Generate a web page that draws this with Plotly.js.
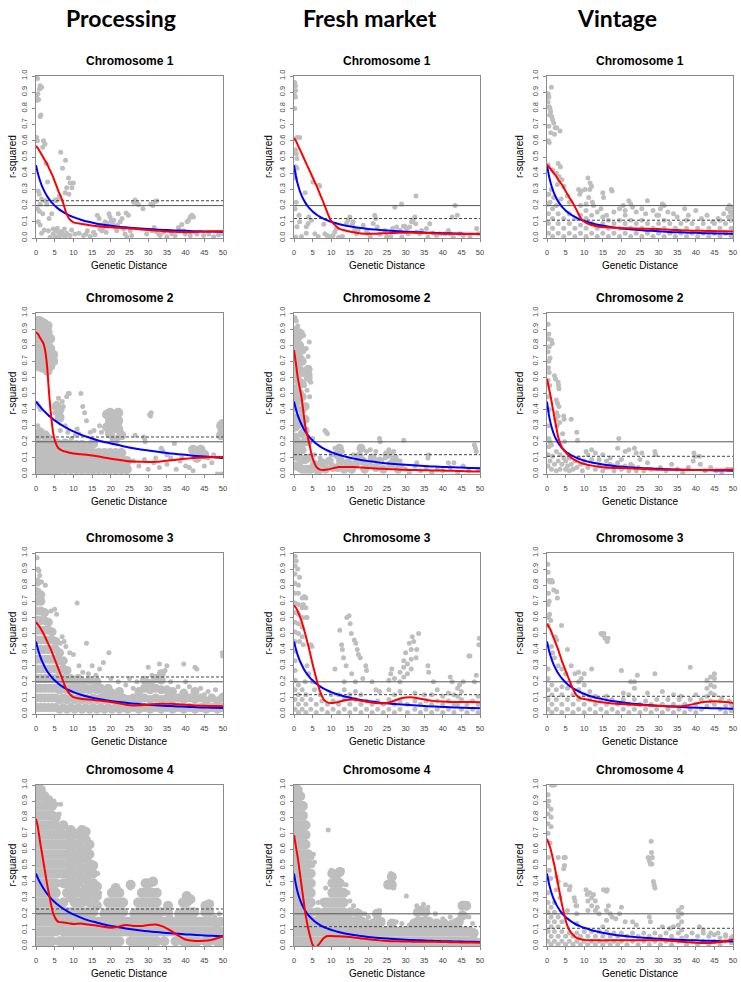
<!DOCTYPE html>
<html><head><meta charset="utf-8">
<script src="https://cdn.plot.ly/plotly-3.0.1.min.js"></script>
<style>html,body{margin:0;padding:0;background:#fff}#chart{width:741px;height:982px}</style>
</head><body><div id="chart"></div>
<script>
// ---------------- DATA ----------------
const GROUPS = ['Processing', 'Fresh market', 'Vintage'];
const CHROMS = ['Chromosome 1', 'Chromosome 2', 'Chromosome 3', 'Chromosome 4'];
const X_TITLE = 'Genetic Distance';
const Y_TITLE = 'r-squared';
const X_TICKS = [0, 5, 10, 15, 20, 25, 30, 35, 40, 45, 50];
const Y_TICKS = [0, 0.1, 0.2, 0.3, 0.4, 0.5, 0.6, 0.7, 0.8, 0.9, 1.0];
const Y_TICK_LABELS = ['0.0', '0.1', '0.2', '0.3', '0.4', '0.5', '0.6', '0.7', '0.8', '0.9', '1.0'];
const SOLID_LINE = 0.2;
const DASHED_LINE = [0.23, 0.12, 0.11]; // per group
const CURVE_X = [0,0.5,1,1.5,2,2.5,3,3.5,4,4.5,5,5.5,6,7,8,9,10,12,14,16,18,20,22,24,26,28,30,32,34,36,38,40,42,44,46,48,50];

// Red (loess) and blue (decay model) curves
const P1_RED = [0.568,0.555,0.535,0.515,0.495,0.475,0.455,0.43,0.405,0.38,0.35,0.32,0.29,0.235,0.16,0.115,0.097,0.088,0.08,0.074,0.069,0.066,0.063,0.06,0.057,0.053,0.049,0.046,0.042,0.039,0.037,0.035,0.036,0.038,0.04,0.041,0.042];
const P1_BLUE = [0.45,0.4,0.36,0.327,0.3,0.277,0.257,0.24,0.225,0.212,0.2,0.189,0.18,0.164,0.15,0.138,0.129,0.113,0.1,0.09,0.082,0.076,0.07,0.066,0.062,0.058,0.055,0.052,0.05,0.048,0.046,0.044,0.042,0.041,0.04,0.039,0.038];
const F1_RED = [0.617,0.6,0.575,0.55,0.525,0.5,0.475,0.45,0.425,0.4,0.375,0.35,0.325,0.27,0.215,0.155,0.105,0.06,0.045,0.035,0.028,0.026,0.027,0.029,0.031,0.032,0.033,0.033,0.031,0.03,0.028,0.027,0.026,0.025,0.025,0.025,0.025];
const F1_BLUE = [0.45,0.383,0.333,0.295,0.265,0.24,0.22,0.202,0.188,0.175,0.164,0.154,0.145,0.13,0.118,0.109,0.1,0.087,0.076,0.068,0.062,0.056,0.052,0.048,0.045,0.042,0.039,0.037,0.035,0.033,0.031,0.03,0.029,0.028,0.027,0.026,0.025];
const V1_RED = [0.453,0.44,0.425,0.41,0.395,0.38,0.36,0.345,0.33,0.31,0.29,0.27,0.25,0.215,0.17,0.125,0.1,0.08,0.07,0.066,0.063,0.061,0.06,0.058,0.057,0.056,0.055,0.052,0.05,0.048,0.046,0.045,0.044,0.043,0.042,0.041,0.04];
const V1_BLUE = [0.45,0.387,0.338,0.301,0.271,0.247,0.226,0.209,0.194,0.181,0.17,0.16,0.151,0.136,0.124,0.113,0.105,0.091,0.08,0.072,0.065,0.059,0.055,0.051,0.047,0.044,0.041,0.039,0.036,0.035,0.033,0.032,0.03,0.029,0.028,0.027,0.026];
const P2_RED = [0.88,0.87,0.85,0.83,0.81,0.76,0.66,0.5,0.37,0.27,0.21,0.18,0.16,0.145,0.138,0.132,0.127,0.122,0.118,0.112,0.103,0.095,0.088,0.081,0.077,0.076,0.075,0.076,0.08,0.085,0.09,0.095,0.099,0.102,0.104,0.105,0.105];
const P2_BLUE = [0.45,0.435,0.421,0.408,0.395,0.383,0.372,0.361,0.351,0.341,0.333,0.325,0.316,0.302,0.288,0.276,0.265,0.245,0.228,0.213,0.2,0.19,0.18,0.169,0.16,0.152,0.146,0.14,0.134,0.128,0.123,0.119,0.114,0.11,0.107,0.103,0.1];
const F2_RED = [0.77,0.69,0.6,0.54,0.48,0.39,0.3,0.245,0.2,0.145,0.1,0.068,0.045,0.027,0.025,0.028,0.033,0.043,0.044,0.043,0.04,0.037,0.034,0.032,0.03,0.028,0.026,0.025,0.024,0.023,0.022,0.021,0.02,0.019,0.017,0.016,0.016];
const F2_BLUE = [0.45,0.404,0.366,0.335,0.309,0.286,0.266,0.249,0.234,0.22,0.209,0.198,0.188,0.172,0.158,0.146,0.136,0.12,0.107,0.096,0.087,0.08,0.074,0.068,0.064,0.06,0.057,0.054,0.051,0.048,0.046,0.044,0.042,0.041,0.039,0.037,0.036];
const V2_RED = [0.59,0.535,0.48,0.415,0.35,0.29,0.23,0.195,0.166,0.148,0.135,0.123,0.112,0.093,0.08,0.07,0.062,0.052,0.045,0.04,0.038,0.037,0.035,0.033,0.031,0.029,0.027,0.027,0.026,0.026,0.025,0.025,0.025,0.025,0.026,0.026,0.027];
const V2_BLUE = [0.45,0.369,0.313,0.271,0.239,0.214,0.194,0.177,0.163,0.15,0.14,0.131,0.124,0.111,0.1,0.091,0.083,0.071,0.063,0.056,0.05,0.046,0.042,0.039,0.036,0.034,0.032,0.03,0.028,0.027,0.026,0.025,0.024,0.023,0.022,0.021,0.02];
const P3_RED = [0.571,0.555,0.54,0.52,0.5,0.475,0.45,0.425,0.4,0.37,0.34,0.31,0.28,0.22,0.16,0.125,0.105,0.095,0.09,0.086,0.081,0.075,0.067,0.058,0.053,0.055,0.058,0.062,0.064,0.063,0.06,0.057,0.054,0.052,0.05,0.049,0.048];
const P3_BLUE = [0.45,0.404,0.366,0.335,0.309,0.286,0.266,0.249,0.234,0.22,0.209,0.198,0.188,0.172,0.158,0.146,0.136,0.12,0.107,0.096,0.088,0.081,0.075,0.07,0.065,0.061,0.058,0.055,0.052,0.049,0.047,0.045,0.043,0.041,0.04,0.039,0.038];
const F3_RED = [0.675,0.66,0.64,0.61,0.58,0.54,0.5,0.455,0.41,0.36,0.31,0.265,0.22,0.14,0.09,0.072,0.068,0.075,0.087,0.09,0.083,0.075,0.068,0.066,0.075,0.092,0.102,0.103,0.095,0.086,0.08,0.077,0.075,0.075,0.075,0.074,0.073];
const F3_BLUE = [0.45,0.404,0.366,0.335,0.309,0.286,0.266,0.249,0.234,0.22,0.209,0.198,0.188,0.172,0.158,0.146,0.136,0.12,0.107,0.096,0.087,0.08,0.074,0.068,0.064,0.06,0.057,0.054,0.051,0.048,0.046,0.044,0.042,0.04,0.039,0.037,0.036];
const V3_RED = [0.56,0.54,0.52,0.49,0.46,0.43,0.4,0.365,0.33,0.3,0.27,0.24,0.21,0.155,0.115,0.098,0.093,0.084,0.075,0.07,0.065,0.062,0.059,0.056,0.054,0.052,0.05,0.048,0.047,0.048,0.055,0.065,0.074,0.078,0.078,0.074,0.068];
const V3_BLUE = [0.45,0.398,0.357,0.324,0.296,0.273,0.253,0.236,0.221,0.208,0.196,0.185,0.176,0.16,0.147,0.135,0.125,0.109,0.097,0.087,0.079,0.073,0.067,0.062,0.058,0.054,0.051,0.048,0.046,0.043,0.041,0.039,0.038,0.036,0.035,0.034,0.033];
const P4_RED = [0.79,0.74,0.66,0.59,0.52,0.45,0.38,0.32,0.26,0.21,0.18,0.16,0.15,0.147,0.145,0.14,0.136,0.14,0.133,0.128,0.12,0.114,0.12,0.13,0.125,0.124,0.13,0.133,0.12,0.095,0.065,0.04,0.032,0.031,0.034,0.045,0.06];
const P4_BLUE = [0.45,0.422,0.398,0.377,0.357,0.34,0.324,0.31,0.296,0.284,0.273,0.263,0.253,0.236,0.221,0.208,0.196,0.176,0.159,0.147,0.135,0.125,0.117,0.109,0.102,0.096,0.091,0.087,0.083,0.079,0.076,0.072,0.07,0.067,0.064,0.062,0.06];
const F4_RED = [0.69,0.62,0.55,0.465,0.38,0.295,0.21,0.145,0.09,0.045,0.008,-0.005,-0.006,0.02,0.05,0.062,0.062,0.06,0.057,0.053,0.047,0.042,0.037,0.033,0.03,0.029,0.028,0.027,0.027,0.026,0.026,0.025,0.024,0.023,0.022,0.021,0.02];
const F4_BLUE = [0.45,0.383,0.333,0.295,0.265,0.24,0.22,0.202,0.188,0.175,0.164,0.154,0.145,0.13,0.118,0.109,0.1,0.087,0.076,0.068,0.062,0.056,0.052,0.048,0.045,0.042,0.039,0.037,0.035,0.033,0.031,0.03,0.029,0.028,0.027,0.026,0.025];
const V4_RED = [0.665,0.635,0.6,0.55,0.5,0.44,0.38,0.32,0.26,0.21,0.16,0.125,0.1,0.07,0.05,0.042,0.038,0.036,0.035,0.035,0.035,0.035,0.035,0.035,0.035,0.035,0.035,0.034,0.031,0.027,0.023,0.02,0.018,0.019,0.023,0.03,0.04];
const V4_BLUE = [0.45,0.391,0.346,0.31,0.281,0.257,0.237,0.22,0.205,0.191,0.18,0.17,0.161,0.145,0.132,0.122,0.113,0.098,0.087,0.078,0.07,0.064,0.059,0.055,0.051,0.048,0.045,0.042,0.04,0.038,0.036,0.035,0.033,0.032,0.031,0.029,0.028];

// Scatter points: individual [x, r2] pairs
const P1_PTS = [[0.4,0.985],[1.1,0.94],[0.9,0.92],[1.5,0.93],[0.2,0.88],[0.4,0.85],[0.7,0.855],[0.5,0.89],[1.1,0.75],[1.3,0.76],[0.2,0.62],[0.4,0.6],[2,0.6],[1.8,0.56],[2.4,0.58],[2.7,0.46],[3.1,0.345],[0.6,0.29],[0.9,0.27],[1.5,0.24],[1.1,0.21],[0.4,0.18],[0.9,0.165],[1.8,0.15],[0.6,0.1],[1.1,0.08],[2.4,0.23],[2.9,0.21],[4.2,0.15],[3.3,0.045],[4.6,0.025],[3.75,0.005],[6.6,0.53],[7.9,0.48],[7.1,0.43],[8.7,0.37],[9.1,0.34],[8.2,0.31],[9.6,0.31],[7.8,0.28],[8.8,0.27],[10,0.34],[6.25,0.26],[6,0.24],[5.4,0.23],[5.1,0.235],[4.6,0.055],[5.4,0.045],[6,0.035],[6.4,0.025],[6.9,0.04],[7.3,0.02],[8.2,0.03],[5.1,0.01],[6.25,0.008],[7.8,0.008],[9.1,0.015],[10.4,0.025],[5.7,0.06],[7.6,0.055],[12.7,0.015],[13.4,0.025],[13.75,0.045],[14.5,0.01],[15.4,0.035],[15.8,0.02],[16.4,0.14],[16.9,0.12],[17.1,0.055],[17.6,0.045],[18,0.065],[18.75,0.035],[19.1,0.075],[19.5,0.15],[19.8,0.13],[20.1,0.105],[20.5,0.085],[21.2,0.065],[21.6,0.045],[22,0.15],[22.5,0.1],[23,0.12],[23.4,0.055],[23.8,0.025],[24.1,0.155],[24.7,0.14],[25.2,0.045],[25.6,0.015],[24.3,0.005],[26.1,0.22],[26.5,0.235],[27,0.215],[27.4,0.205],[28.6,0.18],[30.7,0.21],[31.25,0.2],[31.9,0.225],[32.3,0.23],[29.6,0.025],[31,0.045],[31.6,0.065],[32.1,0.04],[32.8,0.025],[33.2,0.015],[34.1,0.035],[35,0.008],[36.3,0.025],[37.2,0.015],[38.1,0.065],[38.6,0.045],[39,0.083],[39.5,0.045],[39.9,0.025],[40.4,0.1],[40.8,0.11],[41.25,0.13],[41.7,0.14],[42.1,0.13],[41.25,0.015],[43,0.025],[44.8,0.015],[46.2,0.025],[47.5,0.008],[48.8,0.02],[49.7,0.03],[18.5,0.1],[19,0.09],[20.8,0.11],[21.8,0.08],[17.5,0.08],[9.5,0.05],[11.5,0.03],[3.5,0.12],[2.2,0.05],[1.5,0.03]];
const F1_PTS = [[0.2,0.96],[0.4,0.94],[0.45,0.91],[0.2,0.88],[0.4,0.87],[0.2,0.8],[1.5,0.62],[0.8,0.62],[0.45,0.545],[0.6,0.52],[0.8,0.49],[0.45,0.44],[0.8,0.43],[0.2,0.4],[0.4,0.37],[3,0.28],[5.1,0.345],[6.7,0.325],[6.9,0.32],[1.35,0.14],[1.5,0.1],[0.8,0.07],[3.3,0.07],[3.8,0.09],[3.95,0.13],[4.7,0.11],[3.3,0.03],[5.6,0.027],[0.45,0.006],[2,0.01],[8,0.085],[8.3,0.027],[8.9,0.016],[9.6,0.01],[10.5,0.016],[10.95,0.037],[11.4,0.058],[14.1,0.09],[14.5,0.11],[15,0.13],[15.7,0.085],[15.9,0.1],[16.3,0.05],[16.8,0.027],[17.2,0.047],[18.6,0.078],[19.5,0.043],[19.9,0.027],[21.3,0.09],[21.7,0.14],[22,0.12],[22.4,0.068],[23.1,0.023],[24.4,0.047],[24.9,0.01],[26.5,0.058],[27.1,0.19],[28.9,0.21],[27.6,0.068],[28.5,0.047],[29.4,0.072],[29.8,0.072],[30.25,0.058],[30.7,0.027],[31.1,0.068],[31.6,0.1],[32,0.113],[32.5,0.13],[32.7,0.088],[32.8,0.26],[32.9,0.037],[33.8,0.027],[34.3,0.047],[35.6,0.058],[36.5,0.088],[37.4,0.031],[38.3,0.016],[39.2,0.027],[40.6,0.027],[41.5,0.047],[41.9,0.027],[42.5,0.13],[43.3,0.2],[43.9,0.14],[44.6,0.027],[45.5,0.016],[47.3,0.01],[49.1,0.058],[49.55,0.027],[0.3,0.18],[0.6,0.22],[6.5,0.01],[12,0.005],[13,0.01],[20.5,0.01],[26,0.01],[29,0.005],[36,0.005],[42.8,0.005]];
const V1_PTS = [[1.2,0.93],[0.3,0.89],[0.5,0.87],[0.3,0.84],[0.6,0.81],[0.8,0.8],[1,0.78],[0.7,0.76],[1.3,0.75],[1.5,0.73],[1.8,0.71],[0.5,0.69],[2.2,0.68],[2.6,0.68],[3.5,0.66],[1,0.65],[2,0.64],[0.4,0.6],[0.6,0.59],[3,0.46],[3.6,0.44],[0.3,0.45],[1.5,0.42],[2.5,0.4],[3.2,0.38],[4,0.36],[2.8,0.33],[4.5,0.32],[1.2,0.3],[0.5,0.27],[1.8,0.25],[3.8,0.24],[0.8,0.22],[2.5,0.2],[5.5,0.26],[6,0.22],[8.5,0.3],[9.2,0.29],[10.2,0.3],[8.8,0.27],[11,0.37],[11.6,0.34],[12,0.32],[11.5,0.3],[11.2,0.25],[12.2,0.22],[10.5,0.21],[12.5,0.2],[15,0.28],[15.2,0.25],[17.3,0.3],[17.5,0.29],[13.5,0.16],[14.5,0.18],[16,0.14],[18,0.16],[19.5,0.18],[20.5,0.2],[21,0.17],[22,0.23],[22.5,0.21],[23,0.19],[24,0.16],[25.5,0.18],[27,0.23],[26.5,0.15],[28.5,0.17],[29.5,0.14],[30.5,0.18],[31,0.21],[31.5,0.2],[32.5,0.16],[34,0.15],[35,0.13],[37,0.18],[38,0.14],[40,0.17],[41.5,0.12],[43,0.14],[44.5,0.1],[46,0.12],[47.5,0.15],[48.5,0.18],[49,0.2],[49.3,0.16],[49.6,0.19],[48.8,0.13],[49.8,0.14]];
const P2_PTS = [[0.3,0.44],[0.8,0.42],[1.2,0.4],[0.5,0.3],[5,0.38],[5.5,0.44],[6.2,0.4],[6.8,0.36],[7.3,0.42],[5.8,0.33],[6,0.47],[7,0.45],[7.8,0.3],[8.5,0.26],[6.5,0.27],[9.5,0.22],[10.5,0.24],[8.6,0.5],[8.2,0.48],[8.9,0.5],[12,0.5],[12.5,0.42],[13,0.38],[13.5,0.33],[11,0.28],[11.5,0.25],[14.5,0.26],[15.5,0.27],[17,0.3],[17.5,0.26],[26.5,0.24],[28.8,0.23],[29.2,0.2],[29,0.22],[30.4,0.37],[30.8,0.38],[30.6,0.36],[34,0.14],[35,0.12],[33.5,0.16],[37,0.19],[36,0.1],[41,0.04],[42,0.02],[26,0.08],[27.5,0.05],[29,0.09],[30,0.03],[31.5,0.07],[33,0.04],[35,0.06],[37.5,0.03],[38.5,0.08],[40,0.05],[46,0.1],[47.5,0.12],[48.5,0.0],[49.5,0.0],[47,0.07],[45,0.05],[39,0.1],[32,0.1]];
const F2_PTS = [[0.3,0.97],[0.6,0.95],[1,0.92],[1.6,0.89],[2.2,0.88],[2.6,0.86],[3.8,0.73],[3.3,0.78],[4.3,0.62],[4.2,0.58],[4.5,0.57],[4.2,0.48],[4.1,0.82],[3.5,0.52],[8.3,0.27],[8.7,0.26],[9,0.25],[23,0.22],[23.2,0.2],[25.5,0.15],[26,0.13],[26.8,0.14],[27.3,0.11],[29.5,0.21],[36.2,0.12],[36,0.1],[41.5,0.07],[43,0.07],[48.5,0.18],[48.8,0.16],[49,0.14],[30,0.03],[31,0.01],[32.5,0.05],[34,0.02],[35.5,0.04],[37,0.01],[38.5,0.03],[40,0.02],[42,0.04],[44,0.01],[45.5,0.05],[47,0.02],[49.5,0.03],[10,0.12],[11,0.16],[13,0.14],[16,0.12],[19.5,0.14],[20.5,0.15],[22,0.14],[24.5,0.1],[28.5,0.08],[29,0.05],[33,0.07],[5.5,0.12],[7,0.1],[5,0.22],[2.8,0.55],[3.2,0.62]];
const V2_PTS = [[0.3,0.93],[0.5,0.87],[0.4,0.84],[1.2,0.83],[1.4,0.81],[0.6,0.79],[0.3,0.76],[0.8,0.72],[0.5,0.7],[0.4,0.66],[0.6,0.63],[2,0.61],[2.3,0.59],[3,0.57],[3.1,0.55],[3.2,0.53],[0.3,0.58],[2.5,0.46],[2.8,0.44],[3.2,0.42],[2.6,0.38],[3,0.36],[2.3,0.34],[3.4,0.32],[2.7,0.3],[4.5,0.36],[4.6,0.34],[6.5,0.34],[4.2,0.25],[4.7,0.2],[8,0.26],[8.2,0.21],[0.5,0.22],[0.8,0.2],[1.2,0.18],[0.4,0.3],[0.6,0.4],[0.3,0.48],[0.7,0.55],[19.3,0.22],[19,0.16],[21,0.14],[22,0.15],[23.5,0.16],[24,0.13],[25.5,0.13],[29,0.14],[29.2,0.12],[27,0.07],[28,0.03],[30.5,0.04],[32,0.02],[33.5,0.06],[35,0.03],[36.5,0.01],[38,0.04],[39.5,0.13],[39.8,0.11],[39.3,0.08],[41,0.11],[41.2,0.06],[42.5,0.02],[44,0.04],[45.5,0.02],[47,0.01],[48.5,0.03],[49.5,0.03],[17,0.1],[15,0.12],[13,0.13],[12,0.15],[10.5,0.14],[11,0.12],[14,0.09],[16,0.08],[18,0.05],[20,0.09],[22.5,0.06],[24.5,0.04],[26,0.02],[25,0.09]];
const P3_PTS = [[0.3,0.97],[0.5,0.9],[0.8,0.89],[1.5,0.82],[2.5,0.8],[1,0.86],[4,0.64],[5,0.65],[5.5,0.62],[11,0.69],[7,0.48],[7.5,0.45],[8,0.42],[9,0.38],[10,0.37],[6.5,0.44],[13.5,0.44],[19.5,0.38],[30,0.29],[33,0.31],[35,0.3],[39.5,0.31],[42.5,0.29],[43,0.28],[49.8,0.38],[49.9,0.36],[15,0.3],[17,0.28],[18,0.32],[11.5,0.3],[12.5,0.26],[14,0.25],[16,0.24],[20,0.22],[22,0.2],[24,0.18],[26,0.16],[25,0.22],[27,0.2],[31,0.24],[34.5,0.27],[36,0.2],[38,0.17],[40,0.2],[41,0.17],[44,0.16],[46,0.14],[48,0.15],[50,0.12],[45,0.12]];
const F3_PTS = [[0.3,0.98],[0.6,0.95],[1,0.9],[1.5,0.85],[2.8,0.73],[3.2,0.72],[2.5,0.68],[3.5,0.6],[1.5,0.45],[2.5,0.43],[4.5,0.43],[4.8,0.42],[3.5,0.3],[4,0.25],[5,0.2],[5.5,0.15],[3,0.2],[12.3,0.52],[12.8,0.43],[13,0.4],[13.3,0.35],[14.2,0.6],[14.8,0.61],[15.1,0.56],[15.4,0.5],[16.2,0.46],[16.6,0.44],[17,0.4],[17.3,0.37],[17.8,0.35],[19.3,0.3],[19.5,0.27],[11,0.28],[14,0.3],[15.5,0.25],[18.5,0.22],[21,0.2],[22,0.15],[26.3,0.28],[26,0.25],[27,0.22],[30,0.38],[31,0.44],[31.8,0.48],[32.2,0.45],[33,0.4],[33.5,0.5],[32.8,0.35],[36,0.3],[36.2,0.26],[37.5,0.2],[38.5,0.15],[42,0.23],[42.5,0.2],[44.5,0.18],[45.5,0.2],[47,0.36],[47.3,0.36],[48.5,0.2],[49,0.24],[49.8,0.47],[49.7,0.43],[10,0.12],[7,0.12],[23,0.14],[35,0.12],[40,0.11]];
const V3_PTS = [[0.2,0.93],[0.3,0.88],[0.5,0.83],[0.8,0.82],[1.2,0.83],[1.5,0.82],[1.8,0.77],[2.6,0.76],[2.8,0.72],[0.4,0.75],[0.6,0.7],[0.3,0.68],[0.7,0.62],[0.4,0.6],[1,0.58],[0.3,0.55],[2.2,0.48],[2.6,0.46],[3.9,0.55],[5.5,0.4],[1.2,0.42],[1.5,0.38],[2,0.35],[3,0.3],[4,0.28],[5,0.25],[6.5,0.3],[7.5,0.25],[8.5,0.26],[9.2,0.22],[14.5,0.5],[15,0.49],[15.3,0.5],[15.6,0.47],[16.2,0.45],[16.4,0.47],[10,0.25],[12,0.28],[20,0.27],[22.5,0.2],[24.3,0.24],[29,0.25],[38.5,0.29],[27,0.13],[31,0.14],[34,0.12],[36,0.11],[40,0.12],[47,0.1],[49,0.08],[50,0.05]];
const P4_PTS = [[3.8,0.92],[4.8,0.9],[5.5,0.88],[6.6,0.88],[6.2,0.82],[16.5,0.45],[17,0.33],[25.6,0.38],[25.2,0.36],[36,0.18],[46.5,0.2],[47.8,0.18],[49,0.2],[50,0.16]];
const F4_PTS = [[9.2,0.72],[5.2,0.57],[5.5,0.52],[5,0.5],[4.8,0.55],[12,0.47],[13,0.47],[14,0.38],[14.5,0.33],[15,0.28],[16,0.25],[17,0.22],[19,0.2],[20,0.18],[23,0.22],[26,0.45],[26.8,0.36],[30.2,0.31],[33,0.25],[34.8,0.26],[36,0.24],[38,0.2],[40,0.17],[42,0.18],[47,0.18],[48,0.14],[8.5,0.36],[7.5,0.28],[6.5,0.27],[9.8,0.4],[10,0.47],[27.5,0.15],[29,0.14],[31,0.13]];
const V4_PTS = [[1.2,1.0],[1.6,1.0],[2,1.0],[0.3,0.94],[0.5,0.9],[0.8,0.64],[0.4,0.55],[0.6,0.47],[1,0.42],[3,0.55],[4.6,0.55],[4.9,0.55],[4.7,0.5],[4.5,0.48],[2.6,0.43],[3,0.4],[5,0.38],[6,0.35],[6.2,0.37],[2.5,0.35],[3.5,0.3],[7.3,0.3],[7.5,0.28],[7.8,0.25],[5.5,0.22],[10.5,0.35],[10.8,0.32],[11.5,0.33],[12.5,0.32],[13,0.28],[13.5,0.24],[14,0.2],[15.2,0.35],[16.2,0.35],[16,0.34],[16.5,0.25],[17,0.2],[17.5,0.18],[18.5,0.17],[19.5,0.2],[20,0.24],[21,0.15],[23,0.15],[24,0.13],[27.2,0.55],[27.5,0.53],[27.8,0.51],[28,0.65],[28.1,0.58],[28.3,0.55],[28.2,0.51],[28.6,0.4],[28.8,0.38],[29,0.36],[27.5,0.18],[27.8,0.15],[31,0.12],[33,0.11],[34,0.12],[41,0.12],[42,0.1],[44,0.08],[46,0.08],[48,0.07],[50,0.06]];

// Dense point clouds: columns of [x, [r2 values at that x]]
const V1_CLOUD = [[0.4,[0.03,0.09,0.15,0.21,0.27]],[1.5,[0.01,0.06,0.12,0.18]],[3,[0.03,0.09,0.15]],[4.5,[0.01,0.06,0.12]],[6,[0.03,0.09,0.15]],[7.5,[0.01,0.06,0.12]],[9,[0.03,0.08,0.14,0.2]],[10.5,[0.01,0.06,0.12,0.17]],[12,[0.03,0.09,0.14]],[13.5,[0.01,0.06]],[15,[0.03,0.09,0.13]],[16.5,[0.01,0.06,0.11]],[18,[0.03,0.09]],[19.5,[0.01,0.06,0.11]],[21,[0.03,0.09,0.14]],[22.5,[0.01,0.06,0.11]],[24,[0.03,0.09]],[25.5,[0.01,0.06,0.11]],[27,[0.03,0.09]],[28.5,[0.01,0.06]],[30,[0.03,0.09,0.14]],[31.5,[0.01,0.06,0.11]],[33,[0.03,0.09]],[34.5,[0.01,0.06]],[36,[0.03,0.09]],[37.5,[0.01,0.06,0.11]],[39,[0.03,0.09]],[40.5,[0.01,0.06]],[42,[0.03,0.09]],[43.5,[0.01,0.06]],[45,[0.03,0.09]],[46.5,[0.01,0.06,0.11]],[48,[0.03,0.09]],[49.5,[0.01,0.06,0.11,0.16]]];
const P2_CLOUD = [[0.3,[0.03,0.08,0.13,0.18,0.23,0.67,0.72,0.78,0.84,0.9,0.95]],[1,[0.03,0.08,0.13,0.18,0.26,0.72,0.78,0.84,0.9,0.95]],[1.7,[0.03,0.08,0.13,0.18,0.66,0.72,0.78,0.84,0.9,0.94]],[2.4,[0.03,0.08,0.13,0.18,0.24,0.68,0.72,0.78,0.84,0.9,0.93]],[3.1,[0.03,0.08,0.13,0.18,0.22,0.64,0.7,0.76,0.82,0.88,0.92]],[3.8,[0.03,0.08,0.13,0.18,0.67,0.72,0.78,0.84]],[4.6,[0.03,0.08,0.13,0.18,0.7,0.74]],[5.5,[0.03,0.08,0.13,0.19,0.42]],[6.3,[0.03,0.08,0.13,0.18,0.35,0.4]],[7.8,[0.03,0.08,0.13,0.19]],[9.3,[0.03,0.08,0.13,0.18]],[10.8,[0.03,0.08,0.13,0.18]],[12.3,[0.03,0.08,0.13,0.18]],[13.8,[0.03,0.08,0.13,0.17]],[15.3,[0.03,0.08,0.13,0.19]],[16.8,[0.03,0.08,0.13]],[18.3,[0.03,0.08,0.13]],[19,[0.29,0.37]],[19.8,[0.03,0.08,0.13,0.25,0.33,0.38]],[21,[0.3,0.36,0.21]],[21.3,[0.03,0.08,0.13]],[22,[0.28,0.33,0.38]],[22.8,[0.03,0.08,0.13,0.24]],[24.3,[0.03,0.08]],[42,[0.15]],[43,[0.13,0.1]],[44,[0.15]],[45,[0.12]],[49.5,[0.24,0.3]],[49.9,[0.27,0.31]]];
const F2_CLOUD = [[0.2,[0.05,0.11,0.17,0.23,0.29,0.35,0.41,0.47,0.53,0.59,0.65,0.71,0.77,0.83,0.89]],[0.8,[0.05,0.12,0.2,0.3,0.45,0.52,0.6,0.68,0.75,0.82,0.88]],[1.5,[0.04,0.1,0.16,0.35,0.5,0.57,0.65,0.72,0.8,0.86]],[2.2,[0.03,0.09,0.15,0.25,0.32,0.4,0.48,0.56,0.63,0.7,0.77]],[3,[0.03,0.09,0.2,0.27,0.34,0.42]],[3.8,[0.03,0.1,0.2,0.6,0.65]],[4.5,[0.03]],[5.5,[0.06]],[6.5,[0.02]],[7.5,[0.07]],[8.5,[0.03]],[9.5,[0.08]],[10.5,[0.04]],[11.5,[0.12]],[11.8,[0.04]],[12.2,[0.16]],[12.5,[0.08]],[13.5,[0.03]],[14.5,[0.07]],[15.5,[0.03]],[16.5,[0.06]],[17.5,[0.11]],[18,[0.16]],[18.5,[0.08]],[19,[0.03]],[20,[0.06]],[21,[0.1]],[22,[0.04]],[23,[0.08]],[24,[0.03]],[25,[0.12]],[26,[0.06]],[27,[0.09]],[28,[0.03]]];
const V2_CLOUD = [[0.3,[0.05,0.12]],[0.5,[0.17]],[0.8,[0.08]],[1.2,[0.03]],[1.5,[0.11]],[2,[0.06]],[2.5,[0.02,0.14]],[3,[0.08]],[3.5,[0.03,0.12]],[4,[0.06]],[4.5,[0.1]],[5,[0.03,0.08]],[5.5,[0.05]],[6,[0.02,0.1]],[6.5,[0.06]],[7,[0.03]],[7.5,[0.08]],[8,[0.04]],[8.5,[0.1]],[9,[0.06]],[9.5,[0.02]],[10,[0.08]],[11,[0.04]],[12,[0.09]],[13,[0.03]],[14,[0.05]],[15,[0.02]],[16,[0.04]],[17,[0.06]],[18,[0.02]],[19,[0.07]],[20,[0.03]],[21,[0.05]],[22,[0.02]],[23,[0.05]],[24,[0.02]]];
const P3_CLOUD = [[0.3,[0.04,0.1,0.16,0.22,0.28,0.34,0.4,0.46,0.52,0.58,0.64,0.7,0.76,0.82]],[1.3,[0.04,0.1,0.16,0.22,0.28,0.34,0.4,0.46,0.52,0.58,0.64,0.7,0.74]],[2.3,[0.04,0.1,0.16,0.22,0.28,0.34,0.4,0.46,0.52,0.58,0.63]],[3.3,[0.04,0.1,0.16,0.22,0.28,0.34,0.4,0.46,0.52,0.57]],[4.3,[0.04,0.1,0.16,0.22,0.28,0.34,0.4,0.46,0.51]],[5.3,[0.04,0.1,0.16,0.22,0.28,0.34,0.4,0.45]],[6.3,[0.03,0.09,0.15,0.21,0.27,0.33,0.38]],[7.3,[0.04,0.1,0.16,0.22,0.28,0.33]],[8.3,[0.03,0.09,0.15,0.21,0.27]],[9.3,[0.04,0.1,0.16,0.22]],[10.3,[0.03,0.09,0.15,0.2]],[11.3,[0.04,0.1,0.16,0.22]],[12.3,[0.03,0.09,0.15,0.2]],[13.3,[0.04,0.1,0.16]],[14.3,[0.03,0.09,0.15,0.21]],[15.3,[0.04,0.1,0.16]],[16.3,[0.03,0.09,0.15,0.2]],[17.3,[0.04,0.1,0.16]],[18.3,[0.03,0.09,0.14]],[19.3,[0.04,0.1,0.16]],[20.3,[0.03,0.09,0.13]],[21.3,[0.04,0.1]],[22.3,[0.03,0.09,0.14]],[23.3,[0.04,0.1]],[24.5,[0.03,0.09]],[26,[0.04,0.1]],[27.5,[0.03,0.09,0.14]],[29,[0.04,0.1,0.16,0.21]],[30.5,[0.03,0.09,0.15,0.19]],[32,[0.04,0.1,0.16,0.22]],[33.5,[0.03,0.09,0.15,0.21,0.25]],[35,[0.04,0.1,0.15]],[36.5,[0.03,0.09,0.14]],[38,[0.04,0.1]],[39.5,[0.03,0.09,0.13]],[41,[0.04,0.1]],[42.5,[0.03,0.09,0.14]],[44,[0.04,0.1]],[45.5,[0.03,0.08]],[47,[0.04,0.1]],[48.5,[0.03,0.08]],[49.8,[0.04,0.1]]];
const F3_CLOUD = [[0.3,[0.03,0.09,0.15,0.21,0.27,0.33,0.39,0.45,0.51,0.57,0.63,0.69,0.75,0.81,0.87,0.92]],[1.2,[0.01,0.06,0.12,0.18,0.5,0.56,0.62,0.68,0.75,0.8]],[2.2,[0.03,0.09,0.15,0.48,0.54,0.6,0.66,0.72]],[3.2,[0.01,0.06,0.12,0.6,0.66]],[4.5,[0.03,0.09]],[6,[0.01,0.06]],[7.5,[0.03,0.08]],[9,[0.01,0.06]],[10.5,[0.03,0.08]],[12,[0.01,0.06,0.12]],[13.5,[0.03,0.09,0.15,0.2]],[15,[0.01,0.06,0.12]],[16.5,[0.03,0.09,0.14,0.2]],[18,[0.01,0.06,0.12]],[19.5,[0.03,0.08]],[21,[0.01,0.06]],[22.5,[0.03,0.08]],[24,[0.01,0.06]],[25.5,[0.03,0.09,0.15,0.21]],[27,[0.01,0.06,0.12]],[28.5,[0.03,0.08,0.14,0.2,0.26]],[29.5,[0.23,0.29,0.33]],[30.5,[0.01,0.06,0.25,0.31]],[31.5,[0.28,0.34,0.4]],[32.5,[0.03,0.08,0.13]],[34,[0.01,0.06]],[35.5,[0.03,0.08]],[37,[0.01,0.06,0.12]],[38.5,[0.03,0.08]],[40,[0.01,0.06]],[41.5,[0.03,0.08,0.13]],[43,[0.01,0.06,0.12]],[44,[0.06,0.11,0.16]],[45,[0.03,0.09,0.14]],[46.5,[0.01,0.06]],[48,[0.03,0.08]],[49.5,[0.01,0.06,0.11]]];
const V3_CLOUD = [[0.3,[0.03,0.09,0.15,0.22,0.28]],[1.3,[0.01,0.06,0.12,0.18]],[2.5,[0.03,0.09,0.15]],[4,[0.01,0.06,0.12,0.17]],[5.5,[0.03,0.09,0.16]],[7,[0.01,0.06,0.12]],[8.5,[0.03,0.09,0.15,0.2]],[10,[0.01,0.06,0.12,0.18]],[11.5,[0.03,0.09,0.14]],[13,[0.01,0.06,0.11]],[14.5,[0.03,0.09]],[16,[0.01,0.06,0.11]],[17.5,[0.03,0.09]],[19,[0.01,0.06]],[20.5,[0.03,0.09,0.13]],[22,[0.01,0.06,0.12]],[23.5,[0.03,0.09,0.16,0.2]],[25,[0.01,0.06]],[26.5,[0.03,0.08]],[28,[0.01,0.06]],[29.5,[0.03,0.09]],[31,[0.01,0.06]],[32.5,[0.03,0.09]],[34,[0.01,0.06]],[35.5,[0.03,0.09]],[37,[0.01,0.06]],[38.5,[0.03,0.09]],[40,[0.01,0.06]],[41.5,[0.03,0.09]],[43,[0.05,0.11,0.16,0.21]],[44,[0.08,0.13,0.18,0.23]],[45,[0.06,0.12,0.17,0.22,0.25]],[46.5,[0.03,0.08]],[48,[0.01,0.05]],[49.5,[0.02,0.06]]];
const P4_CLOUD = [[0.3,[0.03,0.09,0.15,0.21,0.27,0.33,0.39,0.45,0.51,0.57,0.63,0.69,0.75,0.81,0.87,0.93,0.98]],[1.3,[0.03,0.09,0.15,0.21,0.27,0.33,0.39,0.45,0.51,0.57,0.63,0.69,0.75,0.81,0.87,0.93,0.97]],[2.3,[0.03,0.09,0.15,0.21,0.27,0.33,0.39,0.45,0.51,0.57,0.63,0.69,0.75,0.81,0.87,0.93]],[3.3,[0.03,0.09,0.15,0.21,0.27,0.33,0.39,0.45,0.51,0.57,0.63,0.69,0.75,0.81,0.87,0.9]],[4.3,[0.03,0.09,0.15,0.21,0.27,0.33,0.39,0.45,0.51,0.57,0.63,0.69,0.75,0.81,0.87]],[5.3,[0.09,0.15,0.21,0.27,0.33,0.39,0.45,0.51,0.57,0.63,0.69,0.75,0.8]],[6.3,[0.03,0.12,0.18,0.24,0.45,0.51,0.57,0.63,0.69,0.72]],[7.3,[0.03,0.09,0.15,0.21,0.27,0.39,0.45,0.51,0.57,0.63,0.69,0.75]],[8.3,[0.03,0.09,0.15,0.21,0.33,0.39,0.45,0.51,0.57,0.63,0.69]],[9.3,[0.03,0.09,0.15,0.21,0.3,0.36,0.42,0.48,0.54,0.6,0.66,0.72]],[10.3,[0.03,0.09,0.15,0.21,0.27,0.33,0.39,0.45,0.51,0.57,0.63,0.69]],[11.3,[0.03,0.09,0.15,0.21,0.27,0.33,0.39,0.45,0.51,0.57,0.63,0.7]],[12.3,[0.03,0.09,0.15,0.21,0.27,0.33,0.42,0.48,0.54,0.6,0.66,0.72]],[13.3,[0.03,0.09,0.15,0.21,0.3,0.36,0.42,0.48,0.54,0.6,0.66,0.71]],[14.3,[0.03,0.09,0.15,0.21,0.27,0.33,0.39,0.45,0.51,0.57,0.63]],[15.3,[0.03,0.09,0.15,0.21,0.27,0.33,0.39,0.45,0.5]],[16.3,[0.03,0.09,0.15,0.25,0.31,0.37]],[17.3,[0.03,0.09,0.15]],[18.3,[0.03,0.09,0.15,0.2]],[19.3,[0.03,0.09,0.15,0.21,0.27]],[20.3,[0.03,0.09,0.15,0.21,0.27,0.33]],[21.3,[0.03,0.09,0.15,0.21,0.27,0.33,0.36]],[22.3,[0.03,0.09,0.15,0.21,0.27,0.33]],[23.3,[0.09,0.15,0.21,0.27]],[24.3,[0.09,0.15]],[25.3,[0.03,0.09,0.15,0.38]],[26.3,[0.03,0.09,0.15,0.2]],[27.3,[0.03,0.09,0.15,0.21,0.27]],[28.3,[0.03,0.09,0.15,0.21,0.27,0.33]],[29.3,[0.03,0.09,0.15,0.21,0.27,0.33,0.39]],[30.3,[0.03,0.09,0.15,0.21,0.27,0.33,0.39]],[31.3,[0.03,0.09,0.15,0.21,0.27,0.33,0.4]],[32.3,[0.03,0.09,0.15,0.21,0.27,0.33]],[33.3,[0.09,0.15,0.21]],[34.3,[0.03,0.09,0.15]],[35.3,[0.09,0.15,0.21,0.25]],[36.3,[0.09,0.15]],[37.3,[0.03,0.09,0.15]],[38.3,[0.09,0.15,0.2]],[39.3,[0.03,0.09,0.15,0.21,0.27]],[40.3,[0.03,0.09,0.15,0.21,0.27,0.31]],[41.3,[0.03,0.09,0.15,0.21,0.29]],[42.3,[0.03,0.09,0.15,0.21]],[43.3,[0.03,0.09,0.15]],[44.3,[0.09,0.15]],[45.3,[0.03,0.09,0.15,0.21,0.25]],[46.3,[0.03,0.09,0.15,0.21,0.26]],[47.3,[0.09,0.15]],[48.3,[0.03,0.09,0.14]],[49.3,[0.03,0.09,0.15]]];
const F4_CLOUD = [[0.3,[0.03,0.09,0.15,0.21,0.27,0.33,0.39,0.45,0.51,0.57,0.63,0.69,0.75,0.81,0.87,0.93,0.97]],[1,[0.03,0.09,0.15,0.21,0.27,0.33,0.39,0.45,0.51,0.57,0.63,0.69,0.75,0.81,0.87,0.93,0.97]],[1.7,[0.03,0.09,0.15,0.21,0.27,0.33,0.39,0.45,0.51,0.57,0.63,0.69,0.75,0.81,0.87,0.93]],[2.4,[0.03,0.09,0.15,0.21,0.27,0.33,0.39,0.45,0.51,0.57,0.63,0.69,0.75,0.81,0.87]],[3.1,[0.03,0.09,0.15,0.21,0.27,0.33,0.39,0.45,0.51,0.57,0.63,0.69,0.75]],[3.8,[0.03,0.09,0.15,0.21,0.27,0.33,0.39,0.45,0.51,0.57]],[4.5,[0.03,0.09,0.15,0.21,0.27,0.33,0.39,0.45]],[5.3,[0.03,0.09,0.15]],[6.3,[0.03,0.09,0.15,0.21]],[7.3,[0.03,0.09,0.15,0.2]],[8.3,[0.03,0.09,0.15,0.21,0.27]],[9.3,[0.03,0.09,0.15,0.21,0.27]],[10.3,[0.03,0.09,0.15,0.21,0.27,0.33,0.39,0.45]],[11.3,[0.03,0.09,0.15,0.21,0.27,0.33,0.39,0.43]],[12.3,[0.03,0.09,0.15,0.21,0.27,0.33,0.39,0.46]],[13.3,[0.03,0.09,0.15,0.21,0.27,0.33]],[14.3,[0.03,0.09,0.15,0.2]],[15.3,[0.03,0.09,0.15,0.21]],[16.3,[0.03,0.09,0.15]],[17.3,[0.03,0.09,0.15,0.2]],[18.3,[0.03,0.09,0.15]],[19.3,[0.03,0.09,0.14]],[20.3,[0.03,0.09]],[21.3,[0.03,0.09,0.14]],[22.3,[0.03,0.09,0.15,0.2]],[23.3,[0.03,0.09,0.15]],[24.3,[0.03,0.09]],[25.3,[0.03,0.09,0.38]],[26.3,[0.03,0.09,0.14,0.38,0.43]],[27.3,[0.03,0.09]],[28.3,[0.03,0.09]],[29.3,[0.03,0.09]],[30.3,[0.03,0.09]],[31.3,[0.03,0.09]],[32.3,[0.03,0.09,0.14]],[33.3,[0.03,0.09,0.15,0.21]],[34.3,[0.03,0.09,0.15,0.22]],[35.3,[0.03,0.09,0.15,0.21]],[36.3,[0.03,0.09,0.15]],[37.3,[0.03,0.09]],[38.3,[0.03,0.09,0.14]],[39.3,[0.03,0.09]],[40.3,[0.03,0.09,0.14]],[41.3,[0.03,0.09]],[42.3,[0.03,0.09,0.13]],[43.3,[0.03,0.09,0.14]],[44.3,[0.03,0.09,0.15]],[45.3,[0.03,0.09,0.19,0.25]],[46.3,[0.03,0.09,0.25]],[47.3,[0.03,0.09]],[48.3,[0.03,0.08]],[49.3,[0.02]]];
const V4_CLOUD = [[0.3,[0.03,0.09,0.15,0.21,0.27,0.33,0.7,0.76,0.82,0.87]],[1.1,[0.01,0.06,0.12,0.18,0.24,0.74,0.8,0.85]],[2,[0.03,0.09,0.15,0.21,0.27]],[3,[0.01,0.06,0.12,0.18]],[4,[0.03,0.09,0.15]],[5,[0.01,0.06]],[6,[0.03,0.08]],[7,[0.01,0.06]],[8,[0.03,0.08,0.14,0.2,0.25]],[9,[0.01,0.06]],[10,[0.03,0.09]],[11,[0.01,0.06,0.22,0.28]],[12,[0.03,0.09,0.25,0.3]],[13,[0.01,0.06,0.22]],[14,[0.03,0.09]],[15,[0.01,0.06,0.12]],[16,[0.03,0.09,0.16,0.22]],[17,[0.01,0.06]],[18,[0.03,0.08]],[19,[0.01,0.06]],[20,[0.03,0.08]],[21.5,[0.01,0.06]],[23,[0.03,0.08]],[24.5,[0.01,0.06]],[26,[0.03,0.08]],[27.5,[0.01,0.06]],[29,[0.03,0.08]],[30.5,[0.01,0.06]],[32,[0.03,0.08]],[33.5,[0.01,0.06]],[35.3,[0.03,0.08,0.13,0.18,0.22]],[36.2,[0.05,0.1,0.15,0.2,0.24]],[37.5,[0.01,0.06]],[39,[0.03,0.08]],[40.5,[0.01,0.06]],[42,[0.03,0.08]],[43.5,[0.01,0.06]],[45,[0.03,0.07]],[46.5,[0.01,0.05]],[48,[0.03,0.06]],[49.5,[0.02,0.05]]];

// panel order: row (chromosome) x column (group)
const PANELS = [
  {chrom:0, group:0, pts:P1_PTS, cloud:[],       red:P1_RED, blue:P1_BLUE},
  {chrom:0, group:1, pts:F1_PTS, cloud:[],       red:F1_RED, blue:F1_BLUE},
  {chrom:0, group:2, pts:V1_PTS, cloud:V1_CLOUD, red:V1_RED, blue:V1_BLUE},
  {chrom:1, group:0, pts:P2_PTS, cloud:P2_CLOUD, red:P2_RED, blue:P2_BLUE},
  {chrom:1, group:1, pts:F2_PTS, cloud:F2_CLOUD, red:F2_RED, blue:F2_BLUE},
  {chrom:1, group:2, pts:V2_PTS, cloud:V2_CLOUD, red:V2_RED, blue:V2_BLUE},
  {chrom:2, group:0, pts:P3_PTS, cloud:P3_CLOUD, red:P3_RED, blue:P3_BLUE},
  {chrom:2, group:1, pts:F3_PTS, cloud:F3_CLOUD, red:F3_RED, blue:F3_BLUE},
  {chrom:2, group:2, pts:V3_PTS, cloud:V3_CLOUD, red:V3_RED, blue:V3_BLUE},
  {chrom:3, group:0, pts:P4_PTS, cloud:P4_CLOUD, red:P4_RED, blue:P4_BLUE},
  {chrom:3, group:1, pts:F4_PTS, cloud:F4_CLOUD, red:F4_RED, blue:F4_BLUE},
  {chrom:3, group:2, pts:V4_PTS, cloud:V4_CLOUD, red:V4_RED, blue:V4_BLUE}
];

// ---------------- STYLE / LAYOUT ----------------
const W = 741, H = 982;
const COL_PX = [[36,223],[294,480],[547,733]];
const ROW_PX = [[76,238],[313,474],[553,714],[785,946]];
const HEADER_X = [121, 370, 617];
const YTITLE_X = [12, 268, 519];
const CLOUD_SIZE = [5,5,5, 10,9,5, 9,5,5, 10,10,5];
const GREY = '#bebebe';
const FONT = 'Liberation Sans, Arial, sans-serif';

const traces = [];
const layout = {
  width: W, height: H, margin: {l:0, r:0, t:0, b:0},
  paper_bgcolor: '#fff', plot_bgcolor: '#fff', showlegend: false,
  font: {family: FONT, color: '#000'}, annotations: []
};

PANELS.forEach((p, i) => {
  const k = i + 1;
  const sx = k === 1 ? '' : String(k);
  const xa = 'x' + sx, ya = 'y' + sx;
  const col = COL_PX[p.group], row = ROW_PX[p.chrom];
  const axBase = {
    showgrid: false, zeroline: false, showline: true, mirror: true,
    linecolor: '#8a8a8a', linewidth: 1, ticks: 'outside', ticklen: 3,
    tickcolor: '#8a8a8a', tickwidth: 1, tickfont: {size: 7.5, color: '#444', family: FONT},
    fixedrange: true
  };
  layout['xaxis' + sx] = Object.assign({}, axBase, {
    domain: [col[0]/W, col[1]/W], range: [0, 50], anchor: ya,
    tickmode: 'array', tickvals: X_TICKS, ticklabelstandoff: 4
  });
  layout['yaxis' + sx] = Object.assign({}, axBase, {
    domain: [1 - row[1]/H, 1 - row[0]/H], range: [0, 1], anchor: xa,
    tickmode: 'array', tickvals: Y_TICKS, ticktext: Y_TICK_LABELS, tickangle: -90,
    ticklabelstandoff: 2
  });

  // dense cloud
  const cx = [], cy = [];
  p.cloud.forEach(c => c[1].forEach(v => { cx.push(c[0]); cy.push(v); }));
  if (cx.length) traces.push({type:'scatter', mode:'markers', x:cx, y:cy, xaxis:xa, yaxis:ya,
    marker:{color:GREY, size:CLOUD_SIZE[i]}, hoverinfo:'skip', cliponaxis:true});
  // individual points
  traces.push({type:'scatter', mode:'markers', x:p.pts.map(d=>d[0]), y:p.pts.map(d=>d[1]),
    xaxis:xa, yaxis:ya, marker:{color:GREY, size:5}, hoverinfo:'skip', cliponaxis:true});
  // reference lines
  traces.push({type:'scatter', mode:'lines', x:[0,50], y:[SOLID_LINE,SOLID_LINE], xaxis:xa, yaxis:ya,
    line:{color:'#555', width:1}, hoverinfo:'skip'});
  const d = DASHED_LINE[p.group];
  traces.push({type:'scatter', mode:'lines', x:[0,50], y:[d,d], xaxis:xa, yaxis:ya,
    line:{color:'#444', width:1, dash:'3px,2px'}, hoverinfo:'skip'});
  // curves
  traces.push({type:'scatter', mode:'lines', x:CURVE_X, y:p.blue, xaxis:xa, yaxis:ya,
    line:{color:'#0000ff', width:2, shape:'spline', smoothing:0.6}, hoverinfo:'skip'});
  traces.push({type:'scatter', mode:'lines', x:CURVE_X, y:p.red, xaxis:xa, yaxis:ya,
    line:{color:'#ff0000', width:2, shape:'spline', smoothing:0.6}, hoverinfo:'skip'});

  // texts
  const cxp = (col[0] + col[1]) / 2 / W;
  layout.annotations.push({text: '<b>' + CHROMS[p.chrom] + '</b>', xref:'paper', yref:'paper',
    x: cxp, y: 1 - (row[0] - 15)/H, xanchor:'center', yanchor:'middle', showarrow:false,
    font:{size:12, family:FONT, color:'#000'}});
  layout.annotations.push({text: X_TITLE, xref:'paper', yref:'paper',
    x: cxp, y: 1 - (row[1] + 27)/H, xanchor:'center', yanchor:'middle', showarrow:false,
    font:{size:10, family:FONT, color:'#000'}});
  layout.annotations.push({text: Y_TITLE, xref:'paper', yref:'paper', textangle:-90,
    x: YTITLE_X[p.group]/W, y: 1 - (row[0] + row[1])/2/H, xanchor:'center', yanchor:'middle', showarrow:false,
    font:{size:10, family:FONT, color:'#000'}});
});

GROUPS.forEach((g, j) => {
  layout.annotations.push({text: '<b>' + g + '</b>', xref:'paper', yref:'paper',
    x: HEADER_X[j]/W, y: 1 - 18/H, xanchor:'center', yanchor:'middle', showarrow:false,
    font:{size:23, family:'Lato, Open Sans, sans-serif', color:'#000'}});
});

Plotly.newPlot('chart', traces, layout, {displayModeBar:false, staticPlot:true});
</script>
</body></html>
